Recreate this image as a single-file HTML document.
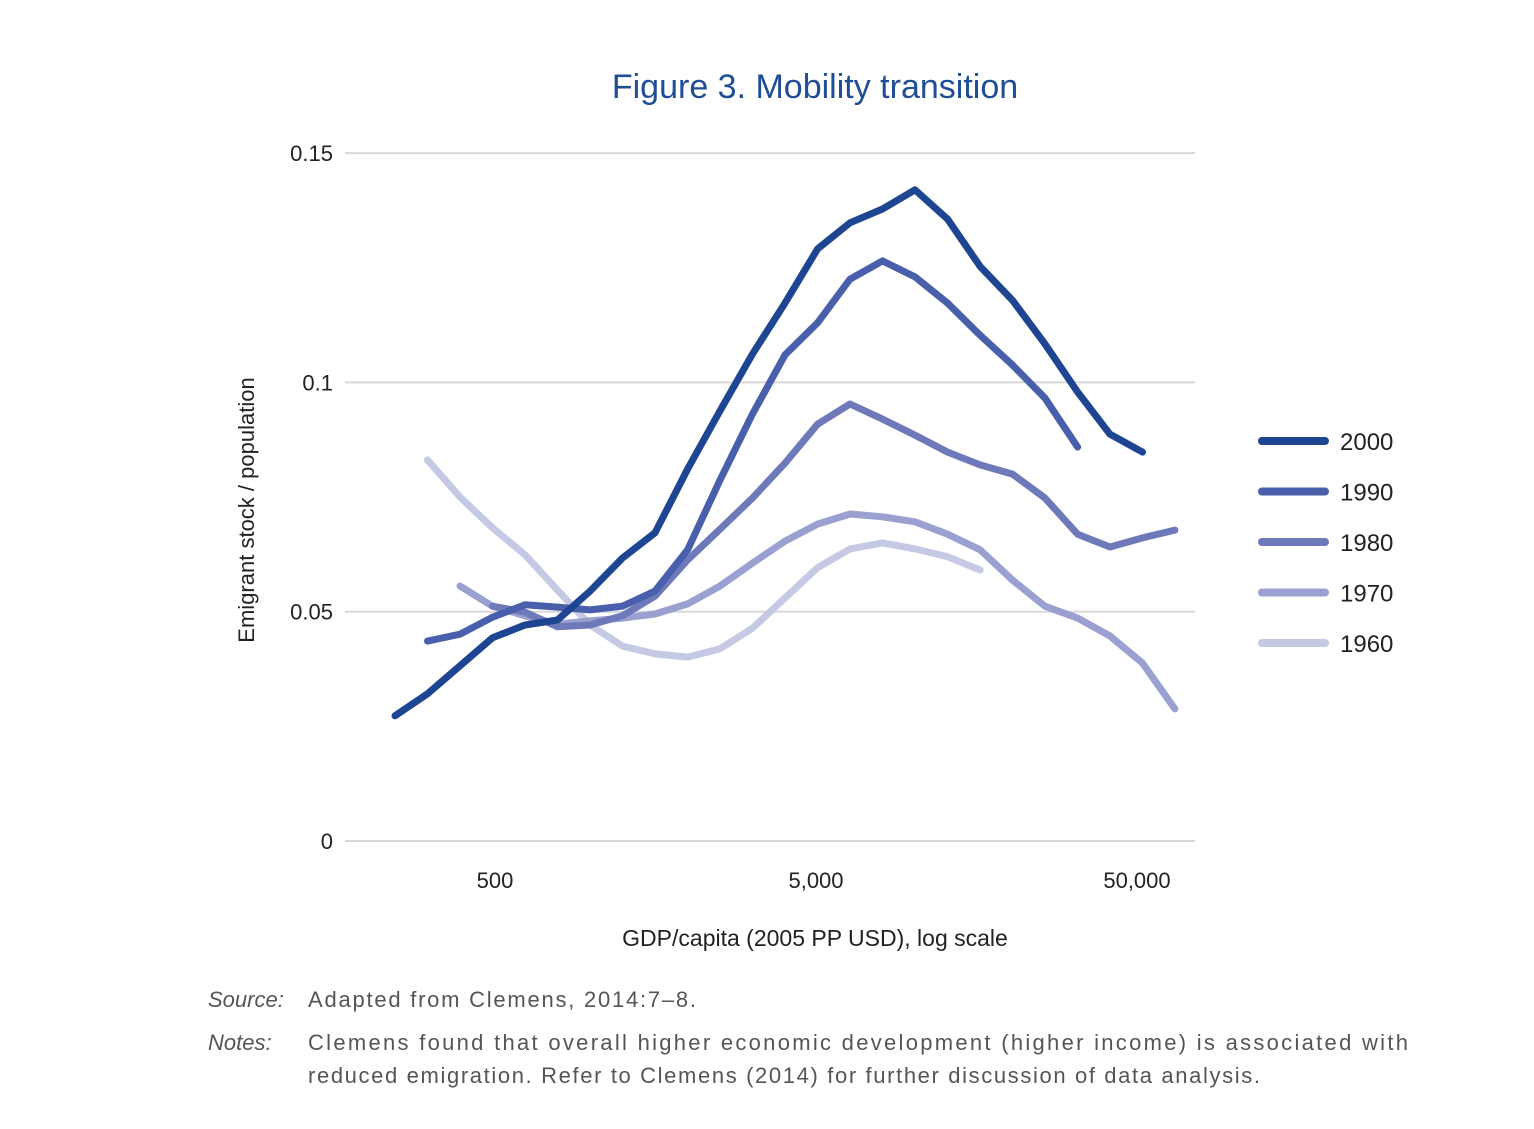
<!DOCTYPE html>
<html><head><meta charset="utf-8"><style>
body{margin:0;background:#fff;}
svg text{font-family:"Liberation Sans",sans-serif;}
</style></head><body>
<svg width="1534" height="1124" xmlns="http://www.w3.org/2000/svg">
<text x="815" y="98" text-anchor="middle" font-size="34" fill="#1f4e96">Figure 3. Mobility transition</text>
<g id="grid"></g>
<g id="lines"></g>
<g id="legend"></g>
<text transform="translate(254,510) rotate(-90)" text-anchor="middle" font-size="22" fill="#222">Emigrant stock / population</text>
<text x="815" y="946" text-anchor="middle" font-size="23" fill="#222">GDP/capita (2005 PP USD), log scale</text>
<text x="208" y="1007" font-size="22" font-style="italic" fill="#555">Source:</text>
<text x="308" y="1007" font-size="22" fill="#555" textLength="388" lengthAdjust="spacing">Adapted from Clemens, 2014:7–8.</text>
<text x="208" y="1050" font-size="22" font-style="italic" fill="#555">Notes:</text>
<text x="308" y="1050" font-size="22" fill="#555" textLength="1100" lengthAdjust="spacing">Clemens found that overall higher economic development (higher income) is associated with</text>
<text x="308" y="1083" font-size="22" fill="#555" textLength="952" lengthAdjust="spacing">reduced emigration. Refer to Clemens (2014) for further discussion of data analysis.</text>
</svg>
<script>
const gdp = [244,308,389,491,620,783,989,1248,1575,1990,2512,3171,4002,5057,6383,8057,10170,12850,16220,20470,25830,32650,41210,52020,65640];
const yTicks = [0,0.05,0.1,0.15];
const yTickLabels = ["0","0.05","0.1","0.15"];
const xTicks = [500,5000,50000];
const xTickLabels = ["500","5,000","50,000"];
const seriesNames = ["2000","1990","1980","1970","1960"];
const seriesStart = [0,1,3,2,1];
const s2000 = [0.0273,0.0321,0.0382,0.0443,0.0471,0.0482,0.0545,0.0617,0.0672,0.0811,0.0938,0.1062,0.1173,0.1291,0.1348,0.1378,0.1420,0.1356,0.1253,0.1179,0.1084,0.0979,0.0887,0.0848];
const s1990 = [0.0436,0.0451,0.0488,0.0515,0.0510,0.0504,0.0512,0.0545,0.0635,0.0787,0.0931,0.1060,0.1130,0.1225,0.1265,0.1230,0.1173,0.1103,0.1038,0.0966,0.0859];
const s1980 = [0.0512,0.0499,0.0467,0.0471,0.0491,0.0534,0.0613,0.0680,0.0748,0.0824,0.0909,0.0953,0.0920,0.0885,0.0848,0.0820,0.0800,0.0748,0.0669,0.0641,0.0661,0.0678];
const s1970 = [0.0556,0.0512,0.0491,0.0473,0.0480,0.0486,0.0495,0.0517,0.0556,0.0606,0.0654,0.0691,0.0713,0.0707,0.0696,0.0669,0.0635,0.0569,0.0512,0.0486,0.0447,0.0388,0.0288];
const s1960 = [0.0831,0.0750,0.0683,0.0624,0.0547,0.0471,0.0425,0.0408,0.0401,0.0419,0.0464,0.0530,0.0596,0.0637,0.0650,0.0637,0.0620,0.0591];
const seriesValues = [s2000,s1990,s1980,s1970,s1960];
const colors = ["#1d4591","#4a5fac","#6e79b9","#9aa0cf","#c6c9e4"];
const NS="http://www.w3.org/2000/svg";
function xs(v){return 495+(Math.log10(v)-Math.log10(500))*321;}
function ys(v){return 841-v*4586;}
function mk(tag,attrs,parent){const e=document.createElementNS(NS,tag);for(const k in attrs)e.setAttribute(k,attrs[k]);parent.appendChild(e);return e;}
const grid=document.getElementById('grid');
yTicks.forEach((t,i)=>{
  const l=mk('line',{x1:345,x2:1195,y1:ys(t),y2:ys(t),stroke:'#d8d8d8','stroke-width':2},grid);
  
  
  const tx=mk('text',{x:333,y:ys(t)+8,'text-anchor':'end','font-size':22,fill:'#222'},grid);
  tx.textContent=yTickLabels[i];
  
  
});
xTicks.forEach((t,i)=>{
  const tx=mk('text',{x:xs(t),y:888,'text-anchor':'middle','font-size':22,fill:'#222'},grid);
  tx.textContent=xTickLabels[i];
  
  
});
const lines=document.getElementById('lines');
for(let s=seriesValues.length-1;s>=0;s--){
  const pts=seriesValues[s].map((v,i)=>xs(gdp[seriesStart[s]+i]).toFixed(1)+','+ys(v).toFixed(1)).join(' ');
  const p=mk('polyline',{points:pts,fill:'none',stroke:colors[s],'stroke-width':7,'stroke-linejoin':'round','stroke-linecap':'round'},lines);
  
  
}
const lg=document.getElementById('legend');
seriesNames.forEach((n,i)=>{
  const y=441+i*50.5;
  const g=mk('g',{},lg);
  
  
  mk('line',{x1:1262,x2:1325,y1:y,y2:y,stroke:colors[i],'stroke-width':8,'stroke-linecap':'round'},g);
  const t=mk('text',{x:1340,y:y+9,'font-size':24,fill:'#222'},g);
  t.textContent=n;
});
</script>
</body></html>
